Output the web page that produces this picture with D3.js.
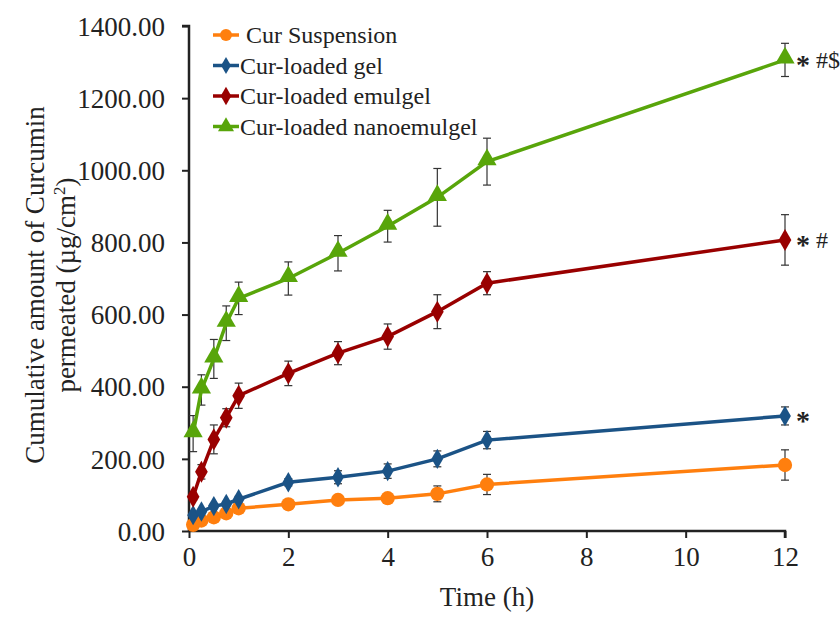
<!DOCTYPE html>
<html>
<head>
<meta charset="utf-8">
<script src="https://cdn.jsdelivr.net/npm/d3@7"></script>
<style>
  body { margin: 0; background: #fff; }
</style>
</head>
<body>
<div id="chart"></div>
<script>
// Sampling times (h).
const time = [0.083, 0.25, 0.5, 0.75, 1, 2, 3, 4, 5, 6, 12];

// Cumulative amount permeated (ug/cm2) and SD per formulation.
const suspension = [17, 29, 38, 49, 63, 74, 86, 91, 103, 129, 183];
const suspensionSd = [6, 6, 6, 7, 7, 8, 10, 8, 22, 28, 42];
const gel = [44, 54, 69, 75, 88, 135, 149, 166, 200, 252, 319];
const gelSd = [6, 6, 7, 7, 8, 10, 18, 20, 22, 24, 25];
const emulgel = [95, 164, 254, 314, 375, 437, 493, 539, 608, 687, 807];
const emulgelSd = [10, 20, 40, 25, 35, 34, 32, 35, 47, 32, 70];
const nano = [270, 391, 477, 576, 645, 700, 770, 845, 925, 1024, 1306];
const nanoSd = [50, 42, 54, 48, 45, 46, 49, 44, 80, 65, 46];

const names = [' Cur Suspension', 'Cur-loaded gel', 'Cur-loaded emulgel', 'Cur-loaded nanoemulgel'];
// Significance marks after the asterisk.
const marks = ['#$', '#', '', ''];
const yTicks = [0, 200, 400, 600, 800, 1000, 1200, 1400];
const xTicks = [0, 2, 4, 6, 8, 10, 12];

(function() {
  const width = 840;
  const height = 618;
  const font = '"Liberation Serif", "Times New Roman", serif';

  const series = [
    { name: names[0], values: suspension, sd: suspensionSd, color: '#ff7f0e', shape: d3.symbolCircle, size: 160, mark: null },
    { name: names[1], values: gel, sd: gelSd, color: '#1b5386', shape: d3.symbolDiamond, size: 120, mark: marks[2] },
    { name: names[2], values: emulgel, sd: emulgelSd, color: '#990000', shape: d3.symbolDiamond, size: 140, mark: marks[1] },
    { name: names[3], values: nano, sd: nanoSd, color: '#58a50a', shape: d3.symbolTriangle, size: 160, mark: marks[0] }
  ];

  const svg = d3.select('#chart')
    .append('svg')
    .attr('width', width)
    .attr('height', height)
    .style('font-family', font);

  const x = d3.scaleLinear().domain([0, 12]).range([189, 785]);
  const y = d3.scaleLinear().domain([0, 1400]).range([531, 26]);

  // Axes.
  const yAxis = svg.append('g')
    .attr('transform', `translate(${x(0)},0)`)
    .call(d3.axisLeft(y).tickValues(yTicks).tickSize(7).tickFormat(d3.format('.2f')));
  const xAxis = svg.append('g')
    .attr('transform', `translate(0,${y(0)})`)
    .call(d3.axisBottom(x).tickValues(xTicks).tickSize(7).tickFormat(d3.format('d')));

  [yAxis, xAxis].forEach(a => {
    a.attr('font-family', null).attr('font-size', null);
    a.select('.domain').attr('stroke', '#222').attr('stroke-width', 2.5);
    a.selectAll('.tick line').attr('stroke', '#222').attr('stroke-width', 2);
    a.selectAll('.tick text')
      .style('font-family', font)
      .style('font-size', '27px')
      .attr('fill', '#222');
  });
  yAxis.select('.domain').attr('d', `M-7,${y(1400)}H0V${y(0)}`);
  xAxis.select('.domain').attr('d', `M${x(0)},0H${x(12)}V7`);
  yAxis.selectAll('.tick text').attr('x', -24).attr('dy', '0.34em');
  xAxis.selectAll('.tick text').attr('y', 16).attr('dy', '0.71em');

  // Axis titles.
  svg.append('text')
    .attr('x', 487)
    .attr('y', 606)
    .attr('text-anchor', 'middle')
    .attr('fill', '#222')
    .style('font-family', font)
    .style('font-size', '27px')
    .text('Time (h)');

  const yTitle = svg.append('text')
    .attr('transform', 'translate(0,285) rotate(-90)')
    .attr('text-anchor', 'middle')
    .attr('fill', '#222')
    .style('font-family', font)
    .style('font-size', '27px');
  yTitle.append('tspan').attr('x', 0).attr('y', 44).text('Cumulative amount of Curcumin');
  const l2 = yTitle.append('tspan').attr('x', 0).attr('y', 75);
  l2.append('tspan').text('permeated (µg/cm');
  l2.append('tspan').attr('dy', -10).style('font-size', '17px').text('2');
  l2.append('tspan').attr('dy', 10).text(')');

  // Error bars.
  const errs = svg.append('g');
  series.forEach(s => {
    const g = errs.append('g')
      .selectAll('g')
      .data(s.values.map((v, i) => ({ t: time[i], v: v, sd: s.sd[i] })))
      .enter()
      .append('g')
      .attr('stroke', '#333')
      .attr('stroke-width', 1.2);
    g.append('line')
      .attr('x1', d => x(d.t)).attr('x2', d => x(d.t))
      .attr('y1', d => y(d.v - d.sd)).attr('y2', d => y(d.v + d.sd));
    g.append('line')
      .attr('x1', d => x(d.t) - 4).attr('x2', d => x(d.t) + 4)
      .attr('y1', d => y(d.v + d.sd)).attr('y2', d => y(d.v + d.sd));
    g.append('line')
      .attr('x1', d => x(d.t) - 4).attr('x2', d => x(d.t) + 4)
      .attr('y1', d => y(d.v - d.sd)).attr('y2', d => y(d.v - d.sd));
  });

  // Lines and markers.
  const line = d3.line()
    .x((d, i) => x(time[i]))
    .y(d => y(d));

  series.forEach(s => {
    svg.append('path')
      .datum(s.values)
      .attr('d', line)
      .attr('fill', 'none')
      .attr('stroke', s.color)
      .attr('stroke-width', 3.5);
    svg.append('g')
      .selectAll('path')
      .data(s.values)
      .enter()
      .append('path')
      .attr('d', d3.symbol().type(s.shape).size(s.size))
      .attr('transform', (d, i) => `translate(${x(time[i])},${y(d) - (s.shape === d3.symbolTriangle ? 2 : 0)})`)
      .attr('fill', s.color);

    // Significance marks at the last point.
    if (s.mark !== null) {
      const t = svg.append('text')
        .attr('x', x(12) + 11)
        .attr('y', y(s.values[s.values.length - 1]) + 8)
        .attr('fill', '#222')
        .style('font-family', font)
        .style('font-size', '24px')
        .style('white-space', 'pre');
      t.append('tspan')
        .attr('dy', 6)
        .style('font-size', '28px')
        .style('font-weight', 'bold')
        .text('*');
      t.append('tspan')
        .attr('dy', -6)
        .text(' ' + s.mark);
    }
  });

  // Legend.
  const legend = svg.append('g')
    .selectAll('g')
    .data(series)
    .enter()
    .append('g')
    .attr('transform', (d, i) => `translate(213, ${35 + i * 30.5})`);
  legend.append('line')
    .attr('x1', 0).attr('x2', 26)
    .attr('stroke', d => d.color)
    .attr('stroke-width', 3.5);
  legend.append('path')
    .attr('d', d => d3.symbol().type(d.shape).size(d.size * 0.7)())
    .attr('transform', 'translate(13,0)')
    .attr('fill', d => d.color);
  legend.append('text')
    .attr('x', 27)
    .attr('y', 8)
    .attr('fill', '#222')
    .style('font-family', font)
    .style('font-size', '24px')
    .style('white-space', 'pre')
    .text(d => d.name);
})();
</script>
</body>
</html>
